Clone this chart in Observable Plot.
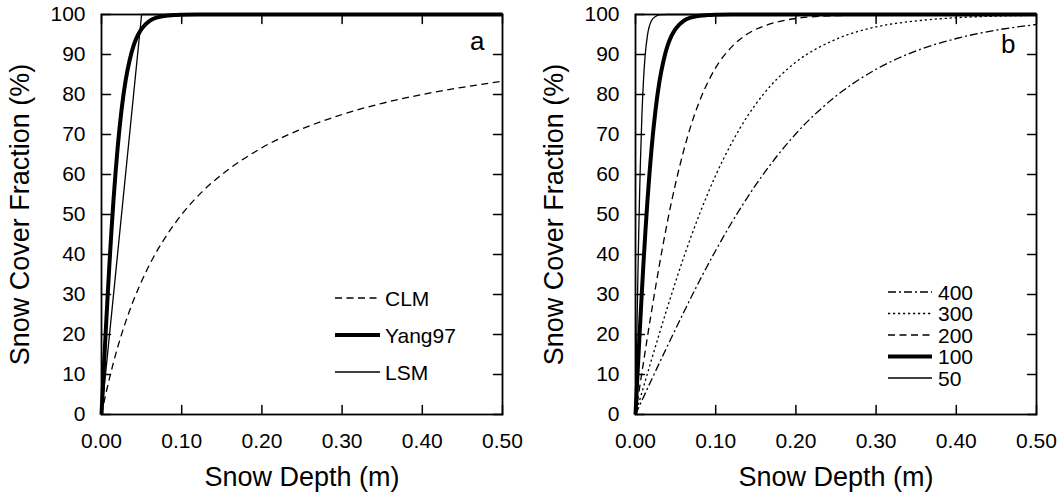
<!DOCTYPE html>
<html><head><meta charset="utf-8">
<script src="https://cdn.jsdelivr.net/npm/d3@7"></script>
<script src="https://cdn.jsdelivr.net/npm/@observablehq/plot@0.6"></script>
<style>
body{margin:0;background:#fff;font-family:"Liberation Sans",Arial,sans-serif;}
#wrap{position:relative;width:1061px;height:492px;display:flex;overflow:hidden;}
#wrap svg{display:block;flex:none;}
#legend{position:absolute;left:0;top:0;}
</style></head><body><div id="wrap"></div>
<script>
// ---------- data ----------
const xTicks = [0, 0.1, 0.2, 0.3, 0.4, 0.5];
const yTicks = [0, 10, 20, 30, 40, 50, 60, 70, 80, 90, 100];

// panel a
const clmDepth = [0, 0.005, 0.01, 0.02, 0.03, 0.04, 0.05, 0.06, 0.08, 0.1, 0.125, 0.15, 0.175, 0.2, 0.25, 0.3, 0.35, 0.4, 0.45, 0.5];
const clmFrac  = [0, 4.8, 9.1, 16.7, 23.1, 28.6, 33.3, 37.5, 44.4, 50.0, 55.6, 60.0, 63.6, 66.7, 71.4, 75.0, 77.8, 80.0, 81.8, 83.3];
const yangDepth = [0, 0.0025, 0.005, 0.0075, 0.01, 0.0125, 0.015, 0.0175, 0.02, 0.025, 0.03, 0.035, 0.04, 0.045, 0.05, 0.06, 0.07, 0.08, 0.09, 0.1, 0.12, 0.5];
const yangFrac  = [0, 10.0, 19.7, 29.1, 38.0, 46.2, 53.7, 60.4, 66.4, 76.2, 83.4, 88.5, 92.2, 94.7, 96.4, 98.4, 99.3, 99.7, 99.85, 99.93, 100, 100];
const lsmDepth = [0, 0.05, 0.5];
const lsmFrac  = [0, 100, 100];

// panel b (snow density)
const d50 = [0, 0.001, 0.002, 0.003, 0.004, 0.005, 0.006, 0.008, 0.01, 0.012, 0.015, 0.02, 0.025, 0.03, 0.04, 0.5];
const f50 = [0, 12.1, 23.8, 34.9, 45.0, 54.2, 62.2, 74.9, 83.7, 89.7, 94.9, 98.5, 99.5, 99.9, 100, 100];
const d100 = [0, 0.0025, 0.005, 0.0075, 0.01, 0.0125, 0.015, 0.0175, 0.02, 0.025, 0.03, 0.035, 0.04, 0.045, 0.05, 0.06, 0.07, 0.08, 0.09, 0.1, 0.12, 0.5];
const f100 = [0, 10.0, 19.7, 29.1, 38.0, 46.2, 53.7, 60.4, 66.4, 76.2, 83.4, 88.5, 92.2, 94.7, 96.4, 98.4, 99.3, 99.7, 99.85, 99.93, 100, 100];
const d200 = [0, 0.01, 0.02, 0.03, 0.04, 0.05, 0.06, 0.07, 0.08, 0.1, 0.12, 0.14, 0.16, 0.18, 0.2, 0.25, 0.3, 0.35, 0.5];
const f200 = [0, 13.1, 25.8, 37.6, 48.4, 57.8, 65.9, 72.8, 78.4, 86.7, 91.9, 95.2, 97.1, 98.3, 99.0, 99.7, 99.9, 100, 100];
const d300 = [0, 0.02, 0.04, 0.06, 0.08, 0.1, 0.12, 0.14, 0.16, 0.18, 0.2, 0.25, 0.3, 0.35, 0.4, 0.45, 0.5];
const f300 = [0, 13.7, 26.9, 39.2, 50.2, 59.8, 67.9, 74.7, 80.2, 84.6, 88.1, 93.8, 96.9, 98.4, 99.2, 99.6, 99.8];
const d400 = [0, 0.02, 0.04, 0.06, 0.08, 0.1, 0.12, 0.15, 0.2, 0.25, 0.3, 0.35, 0.4, 0.45, 0.5];
const f400 = [0, 8.7, 17.2, 25.5, 33.5, 41.0, 48.0, 57.4, 70.2, 79.6, 86.3, 90.9, 94.0, 96.1, 97.5];

const legendA = ["CLM", "Yang97", "LSM"];
const legendB = ["400", "300", "200", "100", "50"];

// ---------- styles ----------
const styles = {
  "CLM":    {strokeWidth: 1.3, dash: "7,4.5", curve: "monotone-x"},
  "Yang97": {strokeWidth: 4,   dash: null,    curve: "monotone-x"},
  "LSM":    {strokeWidth: 1.3, dash: null,    curve: "linear"},
  "400": {strokeWidth: 1.3, dash: "8,3,2,3", curve: "monotone-x"},
  "300": {strokeWidth: 1.3, dash: "2.2,2.8", curve: "monotone-x"},
  "200": {strokeWidth: 1.3, dash: "7,4.5",   curve: "monotone-x"},
  "100": {strokeWidth: 4,   dash: null,      curve: "monotone-x"},
  "50":  {strokeWidth: 1.3, dash: null,      curve: "monotone-x"}
};

const toRows = (ds, fs) => ds.map((d, i) => ({d, f: fs[i]}));
const seriesA = {
  "CLM": toRows(clmDepth, clmFrac),
  "Yang97": toRows(yangDepth, yangFrac),
  "LSM": toRows(lsmDepth, lsmFrac)
};
const seriesB = {
  "400": toRows(d400, f400),
  "300": toRows(d300, f300),
  "200": toRows(d200, f200),
  "100": toRows(d100, f100),
  "50": toRows(d50, f50)
};

const FONT = "Liberation Sans, Arial, Helvetica, sans-serif";
const TICK = 9;           // tick length in px
const PLOT_W = 401, PLOT_H = 400;
const XMAX = 0.5, YMAX = 100;
const tx = TICK / PLOT_W * XMAX;   // tick length in x units
const ty = TICK / PLOT_H * YMAX;   // tick length in y units

// tick segments as two-point lines (one z group per tick)
const tickSegs = [];
xTicks.forEach((v, i) => {
  tickSegs.push({k: "b" + i, d: v, f: 0}, {k: "b" + i, d: v, f: ty});
  tickSegs.push({k: "t" + i, d: v, f: YMAX}, {k: "t" + i, d: v, f: YMAX - ty});
});
yTicks.forEach((v, i) => {
  tickSegs.push({k: "l" + i, d: 0, f: v}, {k: "l" + i, d: tx, f: v});
  tickSegs.push({k: "r" + i, d: XMAX, f: v}, {k: "r" + i, d: XMAX - tx, f: v});
});

function panel({width, marginLeft, marginRight, series, tag, tagDx, tagDy, yLabelDx}) {
  const lines = Object.entries(series).map(([k, rows]) => {
    const s = styles[k];
    return Plot.line(rows, {x: "d", y: "f", stroke: "black", strokeWidth: s.strokeWidth,
      strokeDasharray: s.dash || undefined, curve: s.curve, strokeLinecap: "butt"});
  });
  return Plot.plot({
    width, height: 492, marginTop: 14, marginBottom: 78, marginLeft, marginRight,
    style: {fontFamily: FONT, background: "white", color: "black"},
    x: {domain: [0, XMAX], axis: null},
    y: {domain: [0, YMAX], axis: null},
    marks: [
      ...lines,
      Plot.line(tickSegs, {x: "d", y: "f", z: "k", stroke: "black", strokeWidth: 1.5, curve: "linear"}),
      Plot.frame({stroke: "black", strokeWidth: 1.8}),
      Plot.axisX(xTicks, {anchor: "bottom", tickSize: 0, tickPadding: 19, tickFormat: d3.format(".2f"), fontSize: 21, label: null, fill: "black"}),
      Plot.axisY(yTicks, {anchor: "left", tickSize: 0, tickPadding: 16, tickFormat: d3.format("d"), fontSize: 21, label: null, fill: "black"}),
      Plot.text(["Snow Depth (m)"], {frameAnchor: "bottom", dy: 71, lineAnchor: "bottom", fontSize: 27, fill: "black"}),
      Plot.text(["Snow Cover Fraction (%)"], {frameAnchor: "left", dx: yLabelDx, rotate: -90, lineAnchor: "top", textAnchor: "middle", fontSize: 27, fill: "black"}),
      Plot.text([tag], {frameAnchor: "top-right", dx: tagDx, dy: tagDy, textAnchor: "end", lineAnchor: "bottom", fontSize: 26, fill: "black"})
    ]
  });
}

const wrap = document.getElementById("wrap");
wrap.appendChild(panel({width: 530, marginLeft: 101, marginRight: 28, series: seriesA, tag: "a", tagDx: -18, tagDy: 35, yLabelDx: -92}));
wrap.appendChild(panel({width: 531, marginLeft: 105, marginRight: 25, series: seriesB, tag: "b", tagDx: -21, tagDy: 38, yLabelDx: -92}));

// ---------- legends (page overlay) ----------
const leg = d3.select("#wrap").append("svg").attr("id", "legend").attr("width", 1061).attr("height", 492);
function drawLegend(items, x0, x1, tx0, ys) {
  items.forEach((k, i) => {
    const s = styles[k];
    leg.append("line").attr("x1", x0).attr("x2", x1).attr("y1", ys[i]).attr("y2", ys[i])
      .attr("stroke", "black").attr("stroke-width", s.strokeWidth)
      .attr("stroke-dasharray", s.dash);
    leg.append("text").attr("x", tx0).attr("y", ys[i]).attr("dy", "0.36em")
      .attr("font-family", FONT).attr("font-size", 21).attr("fill", "black").text(k);
  });
}
drawLegend(legendA, 335, 380, 385, [298, 335, 372]);
drawLegend(legendB, 888, 932, 938, [292, 313.5, 335, 356.5, 378]);
</script></body></html>
